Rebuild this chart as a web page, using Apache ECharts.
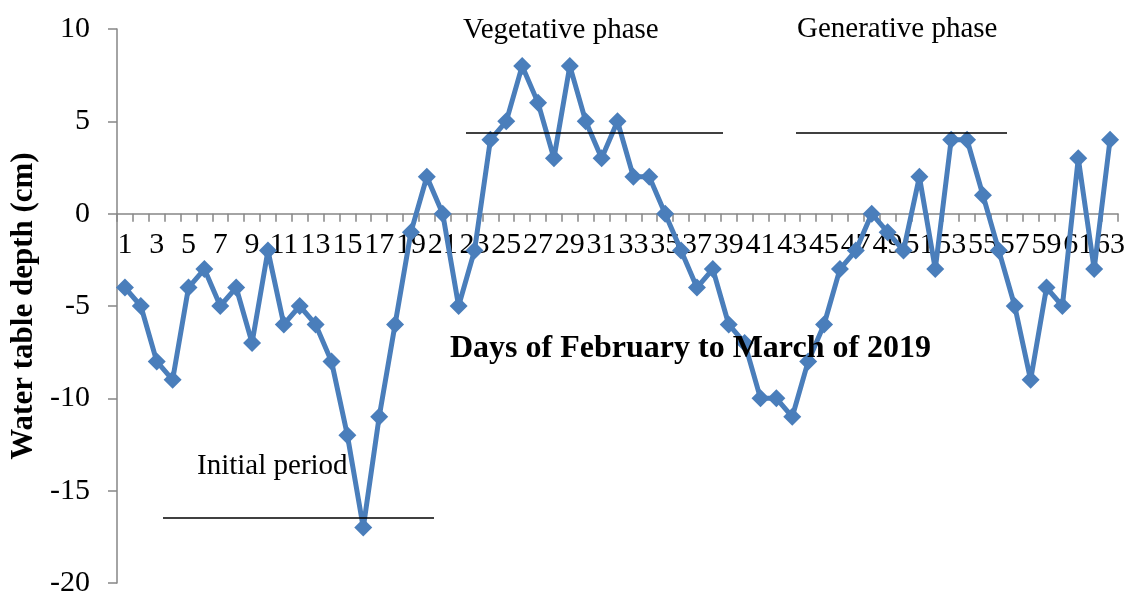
<!DOCTYPE html>
<html>
<head>
<meta charset="utf-8">
<title>Water table depth</title>
<script src="https://cdn.jsdelivr.net/npm/echarts@6/dist/echarts.min.js"></script>
<style>
  html, body { margin: 0; padding: 0; background: #ffffff; }
  #chart { width: 1126px; height: 594px; }
</style>
</head>
<body>
<div id="chart"></div>
<script>
  const days = [];
  for (let d = 1; d <= 63; d++) days.push(String(d));

  // water table depth (cm) per day
  const depth = [
    -4, -5, -8, -9, -4, -3, -5, -4, -7, -2,
    -6, -5, -6, -8, -12, -17, -11, -6, -1, 2,
    0, -5, -2, 4, 5, 8, 6, 3, 8, 5,
    3, 5, 2, 2, 0, -2, -4, -3, -6, -7,
    -10, -10, -11, -8, -6, -3, -2, 0, -1, -2,
    2, -3, 4, 4, 1, -2, -5, -9, -4, -5,
    3, -3, 4
  ];

  const yTicks = { min: -20, max: 10, step: 5 };

  const serif = '"Liberation Serif", "Times New Roman", serif';
  const axisGray = '#868686';
  const lineBlue = '#4a7ebb';

  const grid = { left: 117, right: 8, top: 29, bottom: 11 };
  // the category axis sits on y = 0, so lift it from the grid bottom
  const gridH = 594 - grid.top - grid.bottom;
  const zeroLift = gridH * (0 - yTicks.min) / (yTicks.max - yTicks.min);

  function phaseText(text, x, y) {
    return {
      type: 'text',
      left: x,
      top: y,
      style: { text: text, font: '29px ' + serif, fill: '#000' },
      z: 10
    };
  }

  function phaseLine(x1, x2, y) {
    return {
      type: 'line',
      shape: { x1: x1, y1: y, x2: x2, y2: y },
      style: { stroke: '#000', lineWidth: 1.6 },
      z: 10
    };
  }

  const chart = echarts.init(document.getElementById('chart'), null, { renderer: 'canvas' });

  chart.setOption({
    animation: false,
    backgroundColor: '#ffffff',
    grid: Object.assign({ containLabel: false, outerBoundsMode: 'none' }, grid),
    xAxis: {
      type: 'category',
      data: days,
      boundaryGap: true,
      position: 'bottom',
      offset: -zeroLift,
      axisLine: { onZero: false, lineStyle: { color: axisGray, width: 1.5 } },
      axisTick: { show: true, interval: 0, length: 8, lineStyle: { color: axisGray, width: 1.5 } },
      axisLabel: {
        interval: 1,
        margin: 16,
        color: '#000',
        fontFamily: serif,
        fontSize: 30
      },
      splitLine: { show: false }
    },
    yAxis: {
      type: 'value',
      min: yTicks.min,
      max: yTicks.max,
      interval: yTicks.step,
      name: 'Water table depth (cm)',
      nameLocation: 'middle',
      nameGap: 76,
      nameRotate: 90,
      nameTextStyle: { fontFamily: serif, fontSize: 31, fontWeight: 'bold', color: '#000' },
      axisLine: { show: true, lineStyle: { color: axisGray, width: 1.5 } },
      axisTick: { show: true, length: 9, lineStyle: { color: axisGray, width: 1.5 } },
      axisLabel: { margin: 27, color: '#000', fontFamily: serif, fontSize: 30 },
      splitLine: { show: false }
    },
    graphic: [
      {
        type: 'text',
        left: 450,
        top: 333,
        style: {
          text: 'Days of February to March of 2019',
          font: 'bold 32px ' + serif,
          fill: '#000'
        },
        z: 10
      },
      phaseText('Vegetative phase', 463, 16),
      phaseText('Generative phase', 797, 15),
      phaseText('Initial period', 197, 452),
      phaseLine(466, 723, 133),
      phaseLine(796, 1007, 133),
      phaseLine(163, 434, 518)
    ],
    series: [
      {
        type: 'line',
        data: depth,
        symbol: 'diamond',
        symbolSize: 18,
        showAllSymbol: true,
        lineStyle: { color: lineBlue, width: 5 },
        itemStyle: { color: lineBlue },
        z: 5
      }
    ]
  });
</script>
</body>
</html>
